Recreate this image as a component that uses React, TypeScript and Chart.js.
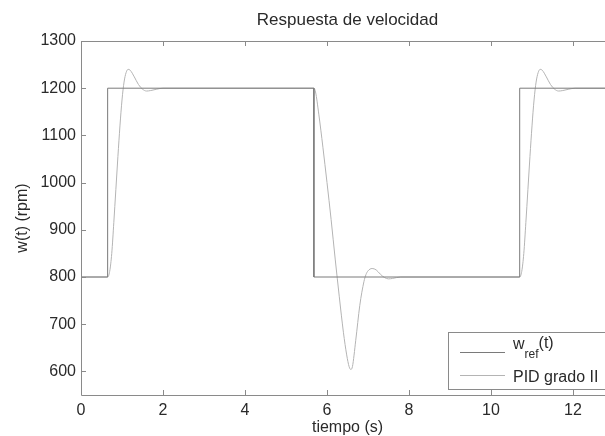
import React, { useEffect, useRef } from "react";
import { Chart, registerables } from "chart.js";
Chart.register(...registerables);

const titleText = "Respuesta de velocidad";
const xLabel = "tiempo (s)";
const yLabel = "w(t) (rpm)";
const legendRefMain = "w";
const legendRefSub = "ref";
const legendRefTail = "(t)";
const legendPid = "PID grado II";

const xMin = 0;
const xMax = 13;
const yMin = 550;
const yMax = 1300;
const xStep = 2;
const yStep = 100;

const refTimes = [0, 0.65, 0.65, 5.68, 5.68, 10.7, 10.7, 13];
const refValues = [800, 800, 1200, 1200, 800, 800, 1200, 1200];

const pidTimes = [
  0, 0.65, 0.7, 0.75, 0.8, 0.85, 0.9, 0.95, 1.0, 1.05, 1.1, 1.15, 1.2, 1.3, 1.4, 1.5, 1.6, 1.7, 1.85, 2.0,
  5.68, 5.72, 5.8, 5.9, 6.0, 6.1, 6.2, 6.3, 6.4, 6.48, 6.54, 6.58, 6.62, 6.7, 6.8, 6.9, 6.95, 7.0, 7.1, 7.2, 7.3, 7.4, 7.5, 7.6, 7.8,
  10.7, 10.75, 10.8, 10.85, 10.9, 10.95, 11.0, 11.05, 11.1, 11.15, 11.2, 11.25, 11.35, 11.45, 11.55, 11.65, 11.75, 11.9, 12.05, 13,
];
const pidValues = [
  800, 800, 812, 850, 915, 985, 1055, 1120, 1175, 1213, 1233, 1240, 1238, 1224, 1208, 1198, 1194, 1195, 1198, 1200,
  1200, 1192, 1145, 1075, 1000, 922, 838, 758, 683, 635, 610, 604, 610, 665, 740, 790, 805, 813, 818, 815, 806, 799, 796, 797, 800,
  800, 812, 850, 915, 985, 1055, 1120, 1175, 1213, 1233, 1240, 1238, 1224, 1208, 1198, 1194, 1195, 1198, 1200, 1200,
];

const FONT = '"Liberation Sans", Arial, sans-serif';
const TEXT = "#2a2a2a";
const FRAME = "#8a8a8a";
const REF_COLOR = "#7a7a7a";
const PID_COLOR = "#b4b4b4";

const decorPlugin = {
  id: "decor",
  afterDraw(chart: any) {
    const ctx = chart.ctx as CanvasRenderingContext2D;
    const { left, right, top, bottom } = chart.chartArea;
    const xs = chart.scales.x;
    const ys = chart.scales.y;
    ctx.save();
    ctx.strokeStyle = FRAME;
    ctx.lineWidth = 1;
    ctx.beginPath();
    ctx.moveTo(Math.round(left) + 0.5, Math.round(top) + 0.5);
    ctx.lineTo(right + 0.5, Math.round(top) + 0.5);
    ctx.moveTo(Math.round(left) + 0.5, Math.round(top) + 0.5);
    ctx.lineTo(Math.round(left) + 0.5, Math.round(bottom) + 0.5);
    ctx.lineTo(right + 0.5, Math.round(bottom) + 0.5);
    ctx.stroke();
    const tl = 5;
    ctx.beginPath();
    xs.ticks.forEach((t: any) => {
      const px = Math.round(xs.getPixelForValue(t.value)) + 0.5;
      ctx.moveTo(px, Math.round(bottom));
      ctx.lineTo(px, Math.round(bottom) - tl);
      ctx.moveTo(px, Math.round(top));
      ctx.lineTo(px, Math.round(top) + tl);
    });
    ys.ticks.forEach((t: any) => {
      const py = Math.round(ys.getPixelForValue(t.value)) + 0.5;
      ctx.moveTo(Math.round(left), py);
      ctx.lineTo(Math.round(left) + tl, py);
    });
    ctx.stroke();

    ctx.fillStyle = TEXT;
    ctx.textAlign = "center";
    ctx.textBaseline = "middle";
    ctx.font = `17px ${FONT}`;
    ctx.fillText(titleText, (left + right) / 2, 20);
    ctx.font = `16px ${FONT}`;
    ctx.fillText(xLabel, (left + right) / 2, 428);
    ctx.save();
    ctx.translate(23, (top + bottom) / 2);
    ctx.rotate(-Math.PI / 2);
    ctx.fillText(yLabel, 0, 0);
    ctx.restore();

    const bx = 448.5, by = 332.5, bw = 162, bh = 57;
    ctx.fillStyle = "#ffffff";
    ctx.fillRect(bx, by, bw, bh);
    ctx.strokeStyle = FRAME;
    ctx.strokeRect(bx, by, bw, bh);
    ctx.lineWidth = 1;
    ctx.strokeStyle = REF_COLOR;
    ctx.beginPath();
    ctx.moveTo(460, 352.5);
    ctx.lineTo(505, 352.5);
    ctx.stroke();
    ctx.strokeStyle = PID_COLOR;
    ctx.beginPath();
    ctx.moveTo(460, 375.5);
    ctx.lineTo(505, 375.5);
    ctx.stroke();
    ctx.fillStyle = TEXT;
    ctx.textAlign = "left";
    ctx.textBaseline = "alphabetic";
    ctx.font = `16px ${FONT}`;
    let tx = 513;
    ctx.fillText(legendRefMain, tx, 349);
    tx += ctx.measureText(legendRefMain).width;
    ctx.font = `12px ${FONT}`;
    ctx.fillText(legendRefSub, tx, 358);
    tx += ctx.measureText(legendRefSub).width;
    ctx.font = `16px ${FONT}`;
    ctx.fillText(legendRefTail, tx, 348);
    ctx.fillText(legendPid, 513, 382);
    ctx.restore();
  },
};

export default function App() {
  const ref = useRef<HTMLCanvasElement>(null);
  useEffect(() => {
    const canvas = ref.current!;
    const refData = refTimes.map((t, i) => ({ x: t, y: refValues[i] }));
    const pidData = pidTimes.map((t, i) => ({ x: t, y: pidValues[i] }));
    const chart = new Chart(canvas, {
      type: "line",
      data: {
        datasets: [
          {
            label: "w_ref(t)",
            data: refData,
            borderColor: REF_COLOR,
            borderWidth: 1,
            pointRadius: 0,
            tension: 0,
          },
          {
            label: "PID grado II",
            data: pidData,
            borderColor: PID_COLOR,
            borderWidth: 1,
            pointRadius: 0,
            cubicInterpolationMode: "monotone",
          },
        ],
      },
      options: {
        animation: false,
        responsive: false,
        devicePixelRatio: 1,
        layout: { padding: { top: 41, right: 26, left: 0, bottom: 0 } },
        plugins: { legend: { display: false }, title: { display: false }, tooltip: { enabled: false } },
        scales: {
          x: {
            type: "linear",
            min: xMin,
            max: xMax,
            grid: { display: false, drawTicks: false },
            border: { display: false },
            ticks: {
              stepSize: xStep,
              includeBounds: false,
              maxRotation: 0,
              padding: 6,
              color: TEXT,
              font: { family: FONT, size: 16 },
              callback: (v: any) => String(v),
            },
            afterFit: (s: any) => {
              s.height = 41;
            },
          },
          y: {
            type: "linear",
            min: yMin,
            max: yMax,
            grid: { display: false, drawTicks: false },
            border: { display: false },
            ticks: {
              stepSize: yStep,
              includeBounds: false,
              padding: 5,
              color: TEXT,
              font: { family: FONT, size: 16 },
              callback: (v: any) => String(v),
            },
            afterFit: (s: any) => {
              s.width = 81;
            },
          },
        },
      } as any,
      plugins: [decorPlugin],
    });
    return () => chart.destroy();
  }, []);
  return (
    <div
      style={{
        position: "fixed",
        left: 0,
        top: 0,
        width: 605,
        height: 436,
        overflow: "hidden",
        background: "#ffffff",
      }}
    >
      <canvas ref={ref} width={640} height={436} style={{ display: "block", width: 640, height: 436 }} />
    </div>
  );
}
